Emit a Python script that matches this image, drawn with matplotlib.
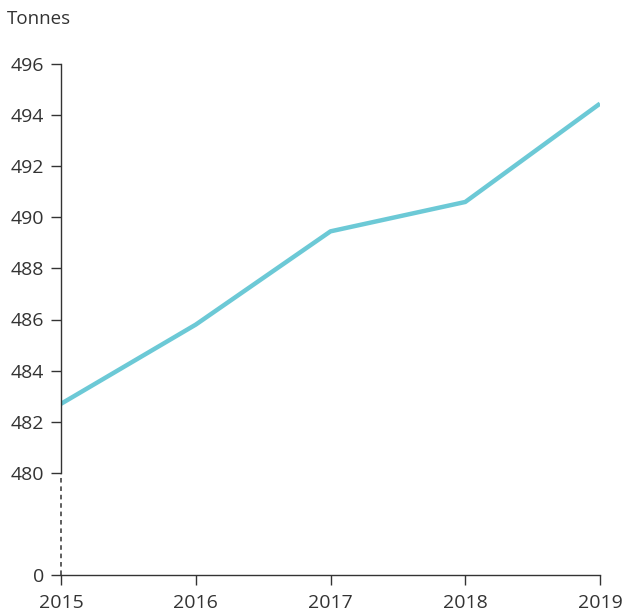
import numpy as np
import matplotlib.pyplot as plt

years = [2015, 2016, 2017, 2018, 2019]
tonnes = [482.7, 485.8, 489.45, 490.6, 494.45]
ytick_vals = [0, 480, 482, 484, 486, 488, 490, 492, 494, 496]

# broken axis: 0 sits 4 units below 480
BREAK_LO = 476

def ymap(v):
    v = np.asarray(v, dtype=float)
    return np.where(v >= 480, v, BREAK_LO)

plt.rcParams['font.family'] = ['Open Sans', 'DejaVu Sans']
txt = '#333333'
fig = plt.figure(figsize=(6.23, 6.15), dpi=100)
ax = fig.add_axes([61/623, 40/615, (600-61)/623, (575-64)/615])

ax.plot(years, ymap(tonnes), color='#6cc9d6', lw=3.2, solid_capstyle='butt', zorder=3)

ax.set_xlim(2015, 2019)
ax.set_ylim(BREAK_LO, 496)
ax.set_xticks(years)
ax.set_xticklabels([str(y) for y in years])
ax.set_yticks(ymap(ytick_vals))
ax.set_yticklabels([str(v) for v in ytick_vals])

for s in ['top', 'right', 'left']:
    ax.spines[s].set_visible(False)
ax.spines['bottom'].set_color(txt)
ax.spines['bottom'].set_linewidth(1)

# left axis: solid above 480, dashed below
ax.plot([2015, 2015], [480, 496], color=txt, lw=1, clip_on=False, zorder=4)
ax.plot([2015, 2015], [BREAK_LO, 480], color=txt, lw=1.1, ls=(0, (3, 2.5)), clip_on=False, zorder=4)

ax.tick_params(axis='both', colors=txt, labelcolor=txt, labelsize=14, length=7, width=1)
ax.tick_params(axis='y', pad=5)
ax.tick_params(axis='x', pad=7)

fig.text(7/623, 1 - 19/615, 'Tonnes', color=txt, fontsize=13.5, va='center', ha='left')

fig.savefig('out.png', dpi=100)
